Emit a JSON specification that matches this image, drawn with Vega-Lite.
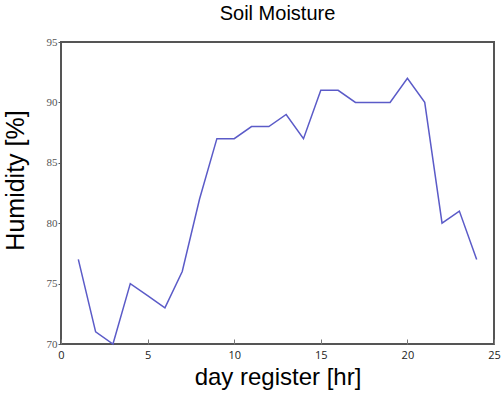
{
  "$schema": "https://vega.github.io/schema/vega-lite/v6.json",
  "autosize": "none",
  "width": 433,
  "height": 302,
  "padding": {"left": 61, "top": 42, "right": 7, "bottom": 50},
  "background": "white",
  "title": {"text": "Soil Moisture", "font": "Liberation Sans", "fontSize": 20, "fontWeight": "normal", "color": "#000", "offset": 12, "anchor": "middle"},
  "config": {"view": {"stroke": "#555", "strokeWidth": 2}},
  "data": {"values": [
    {"hr": 1, "hum": 77}, {"hr": 2, "hum": 71}, {"hr": 3, "hum": 70}, {"hr": 4, "hum": 75},
    {"hr": 5, "hum": 74}, {"hr": 6, "hum": 73}, {"hr": 7, "hum": 76}, {"hr": 8, "hum": 82},
    {"hr": 9, "hum": 87}, {"hr": 10, "hum": 87}, {"hr": 11, "hum": 88}, {"hr": 12, "hum": 88},
    {"hr": 13, "hum": 89}, {"hr": 14, "hum": 87}, {"hr": 15, "hum": 91}, {"hr": 16, "hum": 91},
    {"hr": 17, "hum": 90}, {"hr": 18, "hum": 90}, {"hr": 19, "hum": 90}, {"hr": 20, "hum": 92},
    {"hr": 21, "hum": 90}, {"hr": 22, "hum": 80}, {"hr": 23, "hum": 81}, {"hr": 24, "hum": 77}
  ]},
  "mark": {"type": "line", "color": "#5b5bc8", "strokeWidth": 1.5},
  "encoding": {
    "x": {"field": "hr", "type": "quantitative", "scale": {"domain": [0, 25], "nice": false},
      "axis": {"title": "day register [hr]", "values": [0, 5, 10, 15, 20, 25], "grid": false, "domain": false, "labelFlush": false, "labelOverlap": false,
        "tickSize": -5, "tickColor": "#777", "labelFont": "Open Sans", "labelFontSize": 11, "labelColor": "#222", "labelPadding": 10,
        "titleFont": "Liberation Sans", "titleFontSize": 24, "titleFontWeight": "normal", "titleColor": "#000", "titlePadding": 5}},
    "y": {"field": "hum", "type": "quantitative", "scale": {"domain": [70, 95], "nice": false, "zero": false},
      "axis": {"title": "Humidity [%]", "values": [70, 75, 80, 85, 90, 95], "grid": false, "domain": false,
        "tickSize": 3, "tickColor": "#555", "labelFont": "Liberation Serif", "labelFontSize": 11, "labelColor": "#555", "labelPadding": 1,
        "titleFont": "Liberation Sans", "titleFontSize": 25, "titleFontWeight": "normal", "titleColor": "#000", "titleY": 138, "titleX": -38, "titleBaseline": "alphabetic"}}
  }
}
